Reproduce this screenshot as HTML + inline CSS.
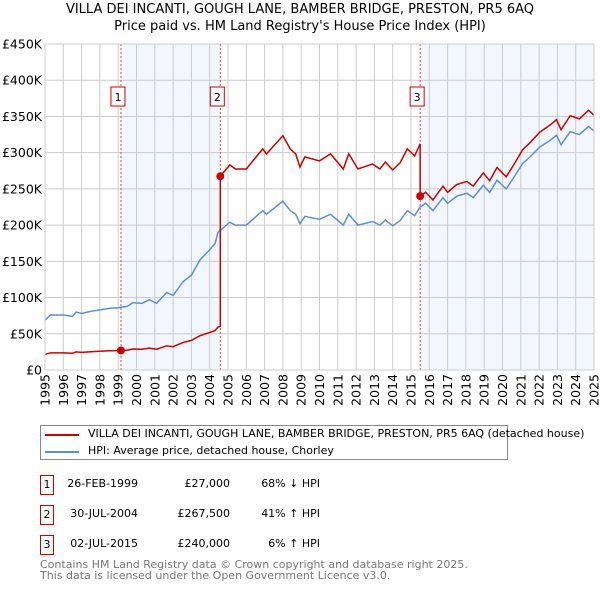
<!DOCTYPE html>
<html><head><meta charset="utf-8"><style>
body{margin:0;background:#fff;font-family:"DejaVu Sans","Liberation Sans",sans-serif;}
#wrap{position:relative;width:600px;height:590px;overflow:hidden}
.t{position:absolute;white-space:nowrap;font-size:12px;color:#000}
</style></head><body><div id="wrap">
<div class="t" style="left:0;width:600px;text-align:center;top:2px;font-size:13px">VILLA DEI INCANTI, GOUGH LANE, BAMBER BRIDGE, PRESTON, PR5 6AQ</div>
<div class="t" style="left:0;width:600px;text-align:center;top:19px;font-size:13px">Price paid vs. HM Land Registry's House Price Index (HPI)</div>
<svg id="chart" width="600" height="420" style="position:absolute;left:0;top:0" font-family="DejaVu Sans, Liberation Sans, sans-serif"></svg>
<div style="position:absolute;left:40px;top:425px;width:468px;height:35px;border:1px solid #888;box-sizing:border-box"></div>
<div style="position:absolute;left:45px;top:434px;width:34px;height:2px;background:#cc0000"></div>
<div class="t" style="left:88px;top:427px;font-size:11px">VILLA DEI INCANTI, GOUGH LANE, BAMBER BRIDGE, PRESTON, PR5 6AQ (detached house)</div>
<div style="position:absolute;left:45px;top:451px;width:34px;height:2px;background:#5b8fd4"></div>
<div class="t" style="left:88px;top:444px;font-size:11px">HPI: Average price, detached house, Chorley</div>
<div id="tbl"></div>
<div class="t" style="left:40px;top:559px;font-size:11px;color:#777;line-height:11px">Contains HM Land Registry data © Crown copyright and database right 2025.<br>This data is licensed under the Open Government Licence v3.0.</div>
</div>
<script>
const hpiYears=[1995,1995.3,1996,1996.5,1996.7,1997,1997.5,1998,1998.5,1999,1999.5,1999.8,2000.3,2000.7,2001.1,2001.65,2002,2002.55,2003,2003.47,2004,2004.3,2004.45,2005.1,2005.4,2006,2006.9,2007.1,2008,2008.4,2008.7,2008.93,2009.2,2010,2010.6,2011.3,2011.6,2012.1,2012.9,2013.3,2013.6,2014,2014.4,2014.8,2015.2,2015.5,2015.8,2016.2,2016.75,2017,2017.5,2018.05,2018.4,2018.95,2019.3,2019.7,2020.2,2020.6,2021.1,2021.5,2022.05,2022.6,2022.95,2023.2,2023.7,2024.2,2024.7,2025];
const hpiValues=[69000,76000,76000,74000,80000,78000,81000,83000,85000,86000,88000,93000,92000,97000,92000,107000,103000,122000,131000,152000,166000,175000,190000,204000,200000,200000,220000,215000,233000,220000,215000,202000,212000,208000,215000,200000,215000,200000,205000,200000,207000,199000,206000,220000,213000,225000,230000,220000,238000,230000,240000,244000,238000,255000,245000,262000,250000,265000,285000,294000,308000,317000,324000,311000,329000,325000,336000,330000];
const saleYears=[1999.15,2004.58,2015.5];
const salePrices=[27000,267500,240000];
const saleLabels=["1","2","3"];
const saleDates=["26-FEB-1999","30-JUL-2004","02-JUL-2015"];
const salePriceText=["£27,000","£267,500","£240,000"];
const saleHpiText=["68% ↓ HPI","41% ↑ HPI","6% ↑ HPI"];
const yTicks=[0,50000,100000,150000,200000,250000,300000,350000,400000,450000];
const yTickLabels=["£0","£50K","£100K","£150K","£200K","£250K","£300K","£350K","£400K","£450K"];

const X0=45,X1=594,Y0=370,Y1=44;
const xs=y=>X0+(y-1995)/30*(X1-X0);
const ys=v=>Y0-v/450000*(Y0-Y1);
const NS="http://www.w3.org/2000/svg";
const svg=document.getElementById('chart');
function mk(tag,at){const e=document.createElementNS(NS,tag);for(const k in at)e.setAttribute(k,at[k]);svg.appendChild(e);return e;}
function hpiAt(t){if(t<=hpiYears[0])return hpiValues[0];for(let i=1;i<hpiYears.length;i++){if(t<=hpiYears[i]){const f=(t-hpiYears[i-1])/(hpiYears[i]-hpiYears[i-1]);return hpiValues[i-1]+f*(hpiValues[i]-hpiValues[i-1]);}}return hpiValues[hpiValues.length-1];}

let sh=mk('rect',{x:xs(saleYears[0]),y:Y1,width:xs(saleYears[1])-xs(saleYears[0]),height:Y0-Y1,fill:'#f2f6fd'});

sh=mk('rect',{x:xs(saleYears[2]),y:Y1,width:X1-xs(saleYears[2]),height:Y0-Y1,fill:'#f2f6fd'});

for(let yr=1995;yr<=2025;yr++){
  const g=mk('line',{x1:xs(yr),x2:xs(yr),y1:Y1,y2:Y0,stroke:'#cccccc','stroke-width':1});
  
  const t=mk('text',{x:0,y:0,'font-size':12.5,'text-anchor':'end',transform:`translate(${xs(yr)+4.5},${Y0+4}) rotate(-90)`});
  t.textContent=yr;
  
}
yTicks.forEach((v,i)=>{
  const g=mk('line',{x1:X0,x2:X1,y1:ys(v),y2:ys(v),stroke:'#cccccc','stroke-width':1});
  
  const t=mk('text',{x:X0-3,y:ys(v)+4.5,'font-size':12.5,'text-anchor':'end'});
  t.textContent=yTickLabels[i];
  
});
saleYears.forEach((s,i)=>{
  const l=mk('line',{x1:xs(s),x2:xs(s),y1:Y1,y2:Y0,stroke:'#ee4444','stroke-width':1,'stroke-dasharray':'2,2'});
  
});
let pts=hpiYears.map((y,i)=>xs(y)+','+ys(hpiValues[i])).join(' ');
let hl=mk('polyline',{points:pts,fill:'none',stroke:'#5b8fd4','stroke-width':1.5});

const ratios=saleYears.map((s,i)=>salePrices[i]/hpiAt(s));
let rp=[];
function seg(a,b,r){hpiYears.forEach((y,i)=>{if(y>a&&y<b)rp.push([y,hpiValues[i]*r]);});}
rp.push([1995,hpiAt(1995)*ratios[0]]);
seg(1995,saleYears[0],ratios[0]);
rp.push([saleYears[0],salePrices[0]]);
seg(saleYears[0],saleYears[1],ratios[0]);
rp.push([saleYears[1],hpiAt(saleYears[1])*ratios[0]]);
rp.push([saleYears[1],salePrices[1]]);
seg(saleYears[1],saleYears[2],ratios[1]);
rp.push([saleYears[2],hpiAt(saleYears[2])*ratios[1]]);
rp.push([saleYears[2],salePrices[2]]);
seg(saleYears[2],2026,ratios[2]);
let pl=mk('polyline',{points:rp.map(p=>xs(p[0])+','+ys(p[1])).join(' '),fill:'none',stroke:'#cc0000','stroke-width':1.5});

let bd=mk('rect',{x:X0,y:Y1,width:X1-X0,height:Y0-Y1,fill:'none',stroke:'#cccccc'});

saleYears.forEach((s,i)=>{
  const c=mk('circle',{cx:xs(s),cy:ys(salePrices[i]),r:4,fill:'#cc0000'});
  
  const b=mk('rect',{x:xs(s)-10,y:87,width:14,height:19,fill:'#fff',stroke:'#cc0000'});
  
  const t=mk('text',{x:xs(s)-3,y:101,'font-size':11,'text-anchor':'middle'});
  t.textContent=saleLabels[i];
  
});
const tbl=document.getElementById('tbl');
saleYears.forEach((s,i)=>{
  const top=475+i*30;
  const row=document.createElement('div');
  
  
  row.innerHTML=`<div style="position:absolute;left:40px;top:${top}px;width:12px;height:18px;border:1px solid #cc0000;font-size:11px;text-align:center;line-height:18px">${saleLabels[i]}</div>
<div class="t" style="left:40px;width:98px;text-align:right;top:${top+2}px;font-size:11px">${saleDates[i]}</div>
<div class="t" style="left:160px;width:70px;text-align:right;top:${top+2}px;font-size:11px">${salePriceText[i]}</div>
<div class="t" style="left:240px;width:80px;text-align:right;top:${top+2}px;font-size:11px">${saleHpiText[i]}</div>`;
  tbl.appendChild(row);
});
</script></body></html>
